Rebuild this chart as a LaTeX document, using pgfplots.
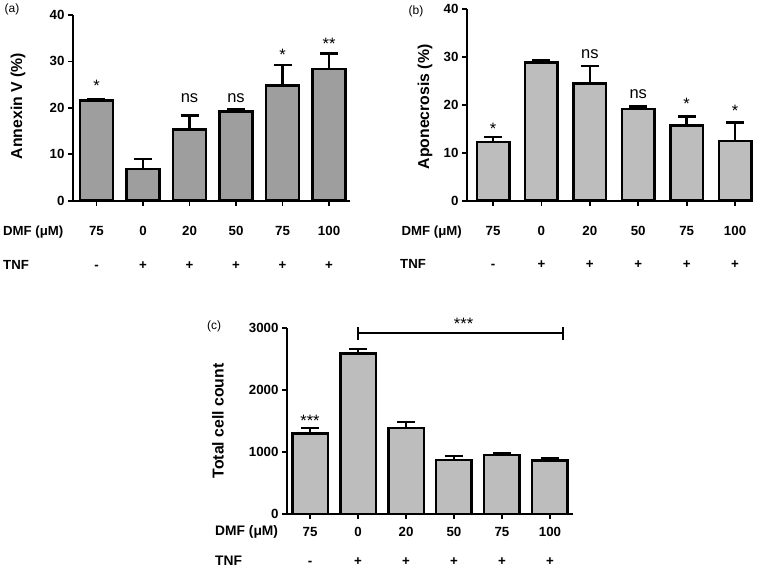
\documentclass[border=0pt]{standalone}
\usepackage{fontspec}
\setmainfont{Liberation Sans}
\usepackage{pgfplots}
\pgfplotsset{compat=1.18}
\definecolor{barA}{gray}{0.62}
\definecolor{barB}{gray}{0.74}

\pgfplotstableread{
x y e
0 21.6 0.3
1 6.8 2.2
2 15.3 3.1
3 19.2 0.4
4 24.8 4.4
5 28.4 3.3
}\dataA
\pgfplotstableread{
x y e
0 12.3 1.0
1 28.9 0.4
2 24.5 3.7
3 19.2 0.5
4 15.7 1.9
5 12.5 3.8
}\dataB
\pgfplotstableread{
x y e
0 1300 85
1 2590 70
2 1385 95
3 875 60
4 950 30
5 862 30
}\dataC

\pgfplotsset{
 panel/.style={
  scale only axis, axis lines=left, axis line style={-, line width=2pt},
  enlargelimits=false, ymin=0,
  xtick={0,...,5}, tick align=outside, major tick length=5pt,
  tick style={line width=1.8pt, black},
  ticklabel style={font=\fontsize{13.3}{16}\selectfont\bfseries},
  /pgf/number format/assume math mode=true,
  xticklabel style={align=center, inner sep=0pt, anchor=north},
  clip=false,
 },
 bars/.style={
   error bars/.cd, y dir=plus, y explicit, error mark=|,
   error bar style={line width=2.5pt, black},
   error mark options={mark size=9pt, line width=2.5pt, black},
   /pgfplots/.cd,
   ybar, bar width=#1, draw=black, line width=2.5pt},
}
\newcommand{\annfont}{\fontsize{16.5}{19}\selectfont}
\newcommand{\rowfont}{\fontsize{13.2}{16}\selectfont\bfseries}

\begin{document}
\begin{tikzpicture}[x=1pt,y=1pt]
\path[use as bounding box] (0,0) rectangle (760,-580);

% ---------- (a)
\begin{axis}[panel, at={(73pt,-200.7pt)}, anchor=south west,
  width=277pt, height=185.7pt, xmin=-0.505, xmax=5.45, ymax=40,
  ytick={0,10,20,30,40},
  xticklabels={{75\\[18pt]-},{0\\[18pt]+},{20\\[18pt]+},{50\\[18pt]+},{75\\[18pt]+},{100\\[18pt]+}},
  xticklabel shift=20pt]
\addplot[bars=33pt, fill=barA] table[x=x,y=y,y error=e] {\dataA};
\node[anchor=north, inner sep=0pt, font=\annfont] at (axis cs:0,26.1) {*};
\node[anchor=base, inner sep=0pt, font=\annfont] at (axis cs:2,21.06) {ns};
\node[anchor=base, inner sep=0pt, font=\annfont] at (axis cs:3,21.06) {ns};
\node[anchor=north, inner sep=0pt, font=\annfont] at (axis cs:4,32.6) {*};
\node[anchor=north, inner sep=0pt, font=\annfont] at (axis cs:5,35.0) {**};
\end{axis}

% ---------- (b)
\begin{axis}[panel, at={(467pt,-200.7pt)}, anchor=south west,
  width=285pt, height=191.4pt, xmin=-0.537, xmax=5.35, ymax=40,
  ytick={0,10,20,30,40},
  xticklabels={{75\\[17pt]-},{0\\[17pt]+},{20\\[17pt]+},{50\\[17pt]+},{75\\[17pt]+},{100\\[17pt]+}},
  xticklabel shift=20pt]
\addplot[bars=32.5pt, fill=barB] table[x=x,y=y,y error=e] {\dataB};
\node[anchor=north, inner sep=0pt, font=\annfont] at (axis cs:0,16.2) {*};
\node[anchor=base, inner sep=0pt, font=\annfont] at (axis cs:2,29.8) {ns};
\node[anchor=base, inner sep=0pt, font=\annfont] at (axis cs:3,21.4) {ns};
\node[anchor=north, inner sep=0pt, font=\annfont] at (axis cs:4,21.4) {*};
\node[anchor=north, inner sep=0pt, font=\annfont] at (axis cs:5,20.0) {*};
\end{axis}

% ---------- (c)
\begin{axis}[panel, at={(287pt,-514pt)}, anchor=south west,
  width=286pt, height=186pt, xmin=-0.48, xmax=5.48, ymax=3000,
  ytick={0,1000,2000,3000},
  scaled y ticks=false, yticklabel={\pgfmathprintnumber[fixed,1000 sep={}]{\tick}},
  xticklabels={{75\\[13pt]-},{0\\[13pt]+},{20\\[13pt]+},{50\\[13pt]+},{75\\[13pt]+},{100\\[13pt]+}},
  xticklabel shift=8.5pt]
\addplot[bars=35.5pt, fill=barB] table[x=x,y=y,y error=e] {\dataC};
\node[anchor=north, inner sep=0pt, font=\annfont] at (axis cs:0,1597) {***};
\draw[line width=2pt] (axis cs:1,2919) -- (axis cs:5.27,2919);
\draw[line width=2.2pt] ([yshift=-6.5pt]axis cs:1,2919) -- ([yshift=6.5pt]axis cs:1,2919);
\draw[line width=2.2pt] ([yshift=-6.5pt]axis cs:5.27,2919) -- ([yshift=6.5pt]axis cs:5.27,2919);
\node[anchor=north, inner sep=0pt, font=\annfont] at (axis cs:3.2,3156) {***};
\end{axis}

% ---------- labels outside axes
\begin{scope}[every node/.style={inner sep=0pt}]
\node[font=\fontsize{12}{14}\selectfont] at (12,-9) {(a)};
\node[font=\fontsize{12}{14}\selectfont] at (416,-11) {(b)};
\node[font=\fontsize{12}{14}\selectfont] at (214,-326) {(c)};

\node[rotate=90, font=\fontsize{15.8}{18}\selectfont\bfseries] at (18,-106) {Annexin V (\%)};
\node[rotate=90, font=\fontsize{15.8}{18}\selectfont\bfseries] at (425,-107) {Aponecrosis (\%)};
\node[rotate=90, font=\fontsize{15.8}{18}\selectfont\bfseries] at (218,-421) {Total cell count};

\node[anchor=base west, font=\rowfont] at (3,-235) {DMF (μM)};
\node[anchor=base west, font=\rowfont] at (3,-269.3) {TNF};
\node[anchor=base east, font=\rowfont] at (462,-235) {DMF (μM)};
\node[anchor=base west, font=\rowfont] at (400,-268) {TNF};
\node[anchor=base west, font=\fontsize{13.8}{16}\selectfont\bfseries] at (215,-535.7) {DMF (μM)};
\node[anchor=base west, font=\fontsize{13.8}{16}\selectfont\bfseries] at (215,-565) {TNF};
\end{scope}
\end{tikzpicture}
\end{document}
